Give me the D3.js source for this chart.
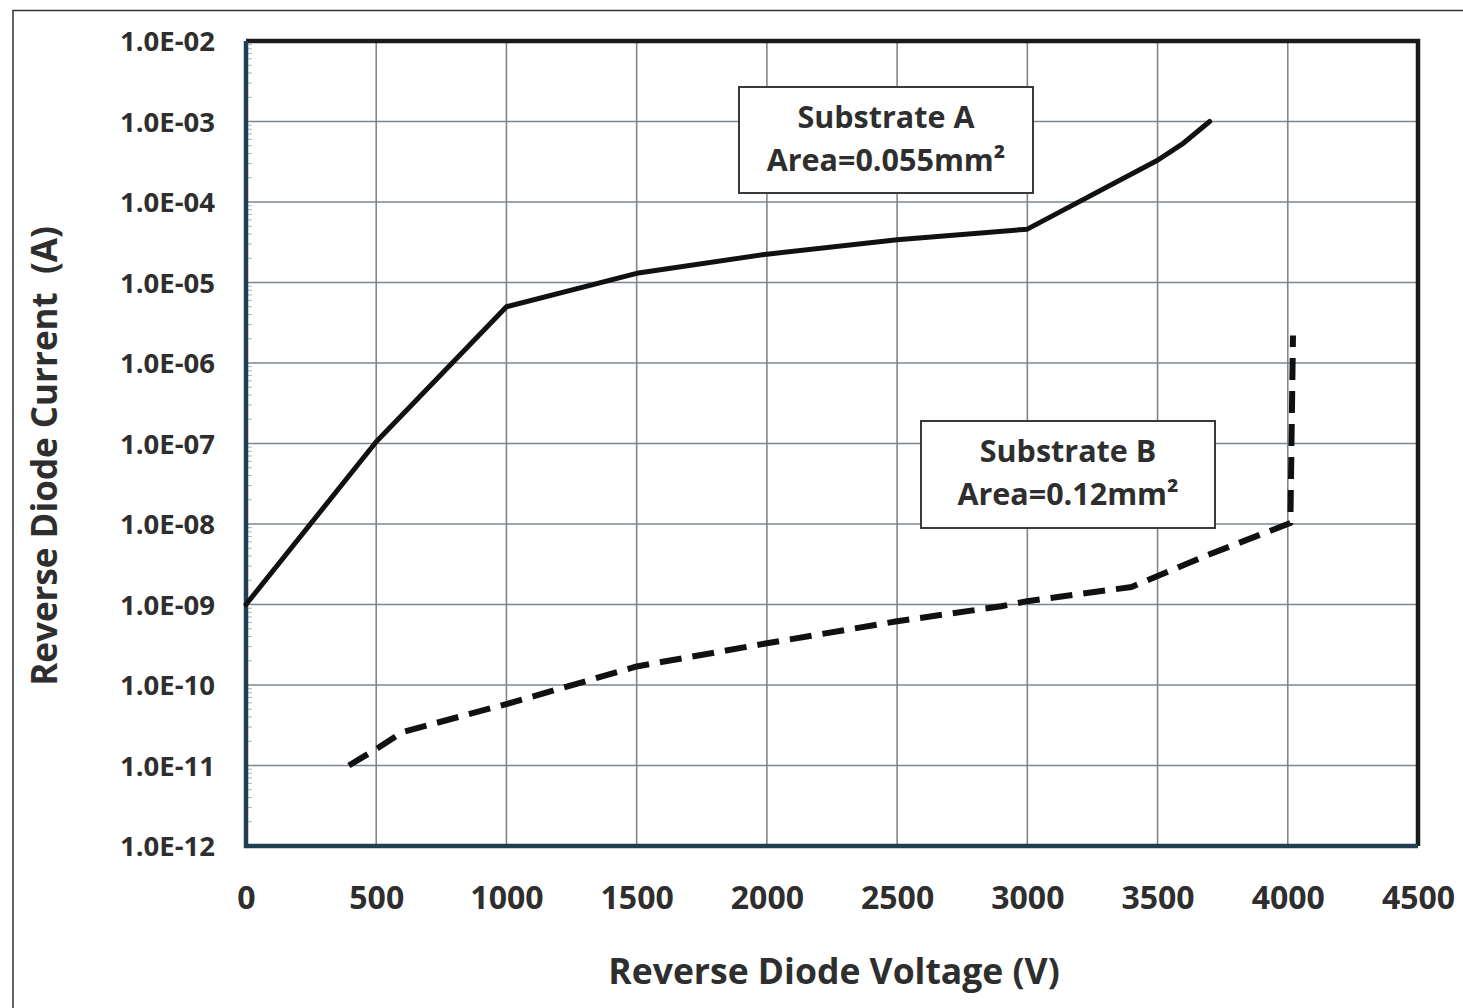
<!DOCTYPE html>
<html>
<head>
<meta charset="utf-8">
<script src="https://cdn.jsdelivr.net/npm/d3@7"></script>
<style>
  body { margin: 0; background: #fff; }
  text { font-family: "Open Sans", Lato, sans-serif; font-weight: 700; fill: #2e2e2e; }
</style>
</head>
<body>
<div id="chart"></div>
<script>
// values
var voltageTicks = [0, 500, 1000, 1500, 2000, 2500, 3000, 3500, 4000, 4500];
var currentTicks = [1e-2, 1e-3, 1e-4, 1e-5, 1e-6, 1e-7, 1e-8, 1e-9, 1e-10, 1e-11, 1e-12];
var currentTickLabels = ["1.0E-02", "1.0E-03", "1.0E-04", "1.0E-05", "1.0E-06", "1.0E-07",
                         "1.0E-08", "1.0E-09", "1.0E-10", "1.0E-11", "1.0E-12"];

var substrateAVoltage = [0, 500, 1000, 1500, 2000, 2500, 3000, 3500, 3600, 3700];
var substrateACurrent = [1e-9, 1.05e-7, 5e-6, 1.3e-5, 2.25e-5, 3.4e-5, 4.6e-5, 3.3e-4, 5.4e-4, 1e-3];

var substrateBVoltage = [395, 500, 600, 1000, 1500, 2000, 2500, 2900, 3000, 3400, 3700, 4010, 4020];
var substrateBCurrent = [1e-11, 1.6e-11, 2.6e-11, 5.8e-11, 1.7e-10, 3.3e-10, 6.2e-10, 9.5e-10, 1.1e-9, 1.65e-9, 4.2e-9, 1.03e-8, 2.2e-6];

var labelA = ["Substrate A", "Area=0.055mm²"];
var labelB = ["Substrate B", "Area=0.12mm²"];

var width = 1463, height = 1008;
var margin = {top: 41, right: 45, bottom: 162, left: 246};

var svg = d3.select("#chart").append("svg")
    .attr("width", width)
    .attr("height", height);

// thin outer frame (top + left only, like the cropped figure)
svg.append("path")
    .attr("d", "M13," + height + " V10.5 H" + width)
    .attr("fill", "none")
    .attr("stroke", "#333")
    .attr("stroke-width", 1.5);

var x = d3.scaleLinear()
    .domain([0, 4500])
    .range([margin.left, width - margin.right]);

var y = d3.scaleLog()
    .domain([1e-12, 1e-2])
    .range([height - margin.bottom, margin.top]);

// grid
svg.append("g").selectAll("line")
    .data(voltageTicks.slice(1, -1))
    .enter().append("line")
    .attr("x1", function(d) { return x(d); })
    .attr("x2", function(d) { return x(d); })
    .attr("y1", y(1e-2))
    .attr("y2", y(1e-12))
    .attr("stroke", "#7d868e")
    .attr("stroke-width", 1.6);

svg.append("g").selectAll("line")
    .data(currentTicks.slice(1, -1))
    .enter().append("line")
    .attr("x1", x(0))
    .attr("x2", x(4500))
    .attr("y1", function(d) { return y(d); })
    .attr("y2", function(d) { return y(d); })
    .attr("stroke", "#7d868e")
    .attr("stroke-width", 1.6);

// faint minor ticks on the left axis
var minor = [];
for (var e = -12; e < -2; e++) {
    [2, 3, 4, 5, 6, 7, 8, 9].forEach(function(m) { minor.push(m * Math.pow(10, e)); });
}
svg.append("g").selectAll("line")
    .data(minor)
    .enter().append("line")
    .attr("x1", x(0))
    .attr("x2", x(0) + 6)
    .attr("y1", function(d) { return y(d); })
    .attr("y2", function(d) { return y(d); })
    .attr("stroke", "#9fb8cc")
    .attr("stroke-width", 1);

// frame: top/right black, left/bottom dark blue
svg.append("path")
    .attr("d", "M" + x(0) + "," + y(1e-2) + " H" + x(4500) + " V" + y(1e-12))
    .attr("fill", "none")
    .attr("stroke", "#1b1b1b")
    .attr("stroke-width", 4.5);

svg.append("path")
    .attr("d", "M" + x(0) + "," + y(1e-2) + " V" + y(1e-12) + " H" + x(4500))
    .attr("fill", "none")
    .attr("stroke", "#223f52")
    .attr("stroke-width", 4.5);

// axes (labels only)
var xAxis = svg.append("g")
    .attr("transform", "translate(0," + (y(1e-12) + 60) + ")")
    .call(d3.axisBottom(x).tickValues(voltageTicks).tickSize(0).tickFormat(d3.format("d")));
xAxis.select(".domain").remove();
xAxis.selectAll("text").attr("font-size", 32).attr("dy", 0).attr("fill", "#2e2e2e");

var yAxis = svg.append("g")
    .attr("transform", "translate(" + (x(0) - 31) + ",0)")
    .call(d3.axisLeft(y).tickValues(currentTicks).tickSize(0)
        .tickFormat(function(d, i) { return currentTickLabels[i]; }));
yAxis.select(".domain").remove();
yAxis.selectAll("text").attr("font-size", 27.5).attr("x", 0).attr("dy", "0.35em").attr("fill", "#2e2e2e");

// axis titles
svg.append("text")
    .attr("x", 834)
    .attr("y", 984)
    .attr("text-anchor", "middle")
    .attr("font-size", 35.5)
    .text("Reverse Diode Voltage (V)");

svg.append("text")
    .attr("transform", "translate(57,456) rotate(-90)")
    .attr("text-anchor", "middle")
    .attr("font-size", 35)
    .attr("xml:space", "preserve")
    .text("Reverse Diode Current  (A)");

// curves
var line = d3.line()
    .x(function(d) { return x(d[0]); })
    .y(function(d) { return y(d[1]); });

svg.append("path")
    .datum(d3.zip(substrateAVoltage, substrateACurrent))
    .attr("d", line)
    .attr("fill", "none")
    .attr("stroke", "#111")
    .attr("stroke-width", 5)
    .attr("stroke-linejoin", "round")
    .attr("stroke-linecap", "round");

svg.append("path")
    .datum(d3.zip(substrateBVoltage, substrateBCurrent))
    .attr("d", line)
    .attr("fill", "none")
    .attr("stroke", "#111")
    .attr("stroke-width", 6)
    .attr("stroke-dasharray", "22,11")
    .attr("stroke-linejoin", "round");

// annotation boxes
function addLabel(lines, x0, y0, w, h) {
    var g = svg.append("g");
    g.append("rect")
        .attr("x", x0).attr("y", y0)
        .attr("width", w).attr("height", h)
        .attr("fill", "#fff")
        .attr("stroke", "#3a3a3a")
        .attr("stroke-width", 2);
    g.selectAll("text")
        .data(lines)
        .enter().append("text")
        .attr("x", x0 + w / 2)
        .attr("y", function(d, i) { return y0 + 41 + i * 43; })
        .attr("text-anchor", "middle")
        .attr("font-size", 30.5)
        .text(function(d) { return d; });
}
addLabel(labelA, 739, 87, 294, 106);
addLabel(labelB, 921, 421, 294, 107);
</script>
</body>
</html>
